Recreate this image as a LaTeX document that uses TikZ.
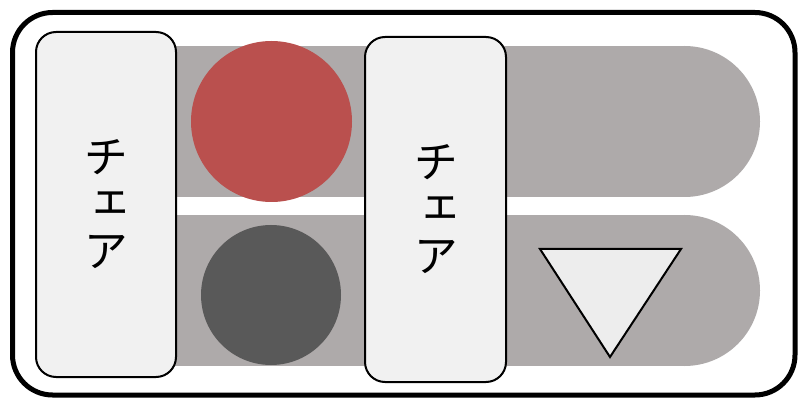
\documentclass[tikz,border=0pt]{standalone}
\usepackage{fontspec}
\newfontfamily\cjk[RawFeature=+vert]{Noto Sans CJK JP}
\definecolor{bargray}{HTML}{AEAAAA}
\definecolor{chairfill}{HTML}{F1F1F1}
\definecolor{redc}{HTML}{BA504E}
\definecolor{darkc}{HTML}{595959}
\definecolor{trifill}{HTML}{EDEDED}
\tikzset{
  chairbox/.style={draw=black, line width=2pt, fill=chairfill, rounded corners=20pt,
    inner sep=0pt, align=center, font=\cjk\fontsize{45}{47}\selectfont},
  disc/.style={circle, inner sep=0pt, draw=none},
  bar/.style={fill=bargray}
}
\begin{document}
\begin{tikzpicture}[x=1pt,y=-1pt]
\useasboundingbox (0,0) rectangle (798,398);
\fill[white] (0,0) rectangle (798,398);
% outer frame
\draw[line width=5pt, rounded corners=40pt] (12.5,12.5) rectangle (795,395);
% bars
\fill[bar] (120,46) rectangle (684.5,197);
\fill[bar] (684.5,121.5) circle[radius=75.5pt];
\fill[bar] (120,215) rectangle (684.5,366);
\fill[bar] (684.5,290.5) circle[radius=75.5pt];
% discs
\node[disc, fill=redc, minimum size=161pt] (red) at (271.5,121.5) {};
\node[disc, fill=darkc, minimum size=140pt] (dark) at (271,295) {};
% triangle
\draw[line width=2pt, fill=trifill, line join=miter] (540,249) -- (681,249) -- (610,357) -- cycle;
% chairs
\node[chairbox, minimum width=140pt, minimum height=345pt] (chair1) at (106,204.5) {チ\\ェ\\ア};
\node[chairbox, minimum width=141pt, minimum height=345pt] (chair2) at (435.5,209.5) {チ\\ェ\\ア};
\end{tikzpicture}
\end{document}
